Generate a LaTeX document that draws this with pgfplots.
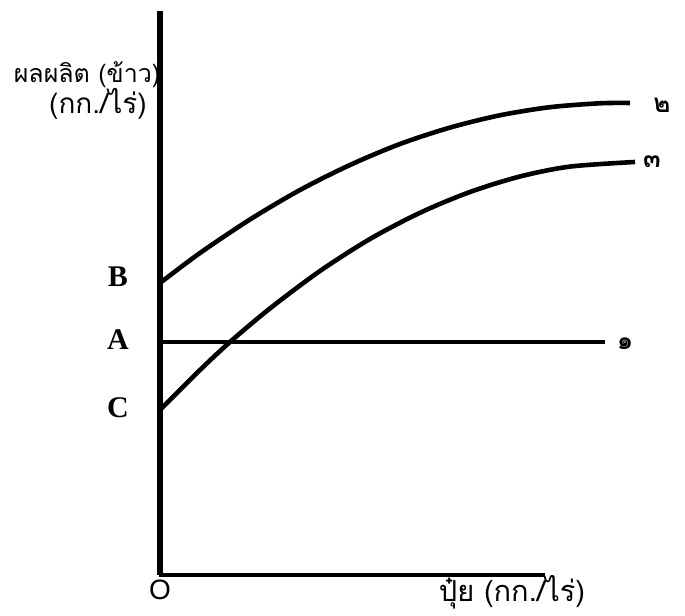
\documentclass[border=0pt]{standalone}
\usepackage{fontspec}
\usepackage{pgfplots}
\pgfplotsset{compat=1.18}
\setmainfont{Liberation Serif}
\newfontfamily\thaifont[Script=Thai]{Loma}
\newfontfamily\sansf{Liberation Sans}
\begin{document}
\begin{tikzpicture}
\begin{axis}[
  scale only axis, width=342.5pt, height=302.5pt,
  xmin=0, xmax=685, ymin=0, ymax=605,
  axis line style={draw=none}, ticks=none,
  clip=false,
]
% axes
\addplot[black, line width=2.6pt] coordinates {(160,594) (160,30)};
\addplot[black, line width=2.4pt] coordinates {(158.7,30) (545,30)};
% curve 1 (A)
\addplot[black, line width=2.3pt] coordinates {(160,263) (605,263)};
% curve 2 (B)
\addplot[black, line width=2.3pt, smooth] coordinates {
(160,322) (200,352) (250,385.5) (300,415) (350,440) (400,461) (450,477.4) (500,489.7) (550,497.8) (600,501.7) (630,502)};
% curve 3 (C)
\addplot[black, line width=2.3pt, smooth] coordinates {
(160,195) (200,235) (230,263) (270,296.6) (320,334) (370,366) (420,392.2) (470,413) (520,428.5) (570,438.4) (635,443)};
% labels
\node[font=\bfseries\fontsize{15}{15}\selectfont] at (axis cs:118,328) {B};
\node[font=\bfseries\fontsize{15}{15}\selectfont] at (axis cs:118,265) {A};
\node[font=\bfseries\fontsize{15}{15}\selectfont] at (axis cs:118,197) {C};
\node[font=\sansf\fontsize{14}{14}\selectfont] at (axis cs:160,15) {O};
\node[font=\thaifont\bfseries\fontsize{13}{13}\selectfont] at (axis cs:662,500) {๒};
\node[font=\thaifont\bfseries\fontsize{13}{13}\selectfont] at (axis cs:625,261) {๑};
\node[font=\thaifont\bfseries\fontsize{13}{13}\selectfont] at (axis cs:652,443) {๓};
\node[font=\thaifont\fontsize{12.5}{12.5}\selectfont] at (axis cs:87,530) {ผลผลิต (ข้าว)};
\node[font=\thaifont\fontsize{14}{14}\selectfont] at (axis cs:98,501) {(กก./ไร่)};
\node[font=\thaifont\fontsize{14.5}{14.5}\selectfont] at (axis cs:512,13) {ปุ๋ย (กก./ไร่)};
\end{axis}
\end{tikzpicture}
\end{document}
